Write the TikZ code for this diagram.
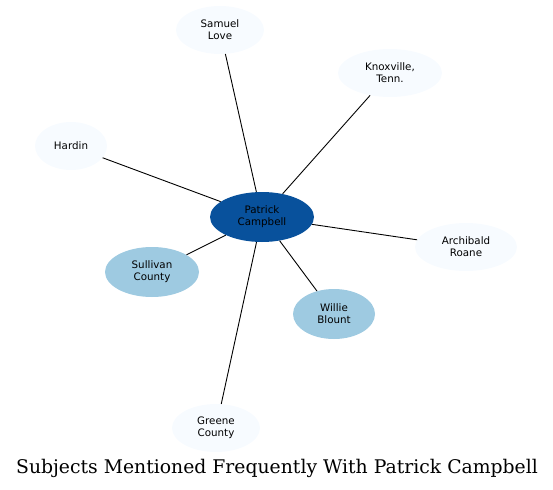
\documentclass[tikz,border=0pt]{standalone}
\usepackage{fontspec}
\setmainfont{DejaVu Sans}
\newfontfamily\titlefont{DejaVu Serif}
\usetikzlibrary{shapes.geometric}
\definecolor{hub}{HTML}{08519C}
\definecolor{mid}{HTML}{9ECAE1}
\definecolor{pale}{HTML}{F7FBFF}
\begin{document}
\begin{tikzpicture}[x=1pt,y=-1pt,
  ent/.style={ellipse,inner sep=0pt,align=center,font=\fontsize{10.3}{11.7}\selectfont,text=black},
  link/.style={draw=black,line width=0.9pt}]
\useasboundingbox (0,0) rectangle (553,489);
\node[ent,fill=hub,minimum width=104pt,minimum height=50pt] (pc) at (262,217) {Patrick\\Campbell};
\node[ent,fill=pale,minimum width=88pt,minimum height=48pt] (sl) at (220,30) {Samuel\\Love};
\node[ent,fill=pale,minimum width=104pt,minimum height=48pt] (kt) at (390,73) {Knoxville,\\Tenn.};
\node[ent,fill=pale,minimum width=72pt,minimum height=48pt] (ha) at (71,146) {Hardin};
\node[ent,fill=pale,minimum width=102pt,minimum height=48pt] (ar) at (466,247) {Archibald\\Roane};
\node[ent,fill=mid,minimum width=94pt,minimum height=50pt] (sc) at (152,272) {Sullivan\\County};
\node[ent,fill=mid,minimum width=82pt,minimum height=50pt] (wb) at (334,314) {Willie\\Blount};
\node[ent,fill=pale,minimum width=88pt,minimum height=48pt] (gc) at (216,428) {Greene\\County};
\foreach \t in {sl,kt,ha,ar,sc,wb,gc} \draw[link] (pc) -- (\t);
\node[font=\titlefont\fontsize{18.8}{20}\selectfont,anchor=base] (title) at (277,473) {Subjects Mentioned Frequently With Patrick Campbell};
\end{tikzpicture}
\end{document}
